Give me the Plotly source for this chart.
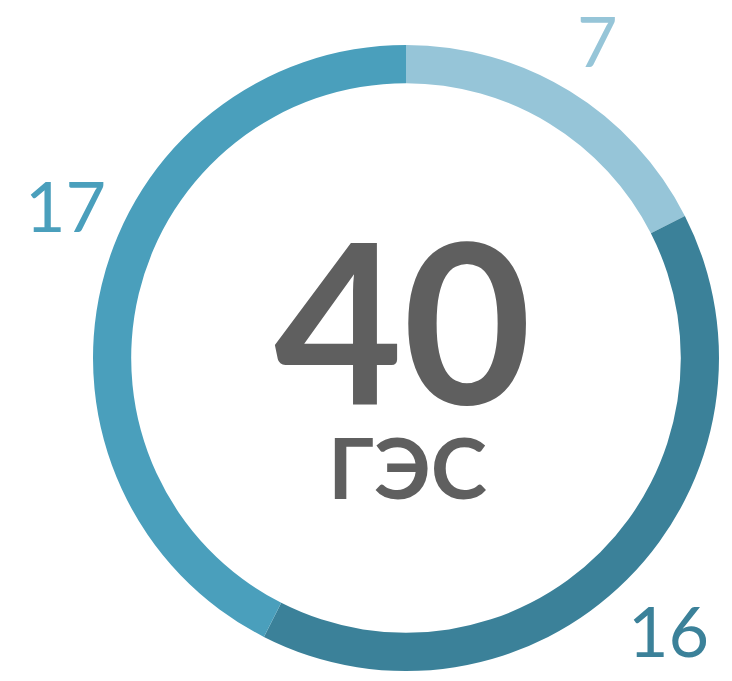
import plotly.graph_objects as go

labels = ["A", "B", "C"]
values = [7, 16, 17]
colors = ["#96c5d8", "#3b8199", "#4a9fbc"]
total_text = "40"
unit_text = "ГЭС"

W, H = 732, 681
OFF = 8  # default page margin of the html body
cx, cy, R = 406 - OFF, 358 - OFF, 313

fig = go.Figure()
fig.add_trace(go.Pie(
    labels=labels, values=values, sort=False, direction="clockwise", rotation=0,
    hole=0.878, textinfo="none", hoverinfo="skip",
    marker=dict(colors=colors, line=dict(width=0)),
    domain=dict(x=[(cx - R) / W, (cx + R) / W], y=[(H - cy - R) / H, (H - cy + R) / H]),
    showlegend=False,
))

def px(x, y):
    return (x - OFF) / W, 1 - (y - OFF) / H

label_pos = [(597, 40), (668, 630), (65, 205)]
anns = []
for v, c, (x, y) in zip(values, colors, label_pos):
    ax, ay = px(x, y)
    anns.append(dict(x=ax, y=ay, xref="paper", yref="paper", text=str(v), showarrow=False,
                     xanchor="center", yanchor="middle",
                     font=dict(family="Lato", size=70, color=c)))
ax, ay = px(403, 318)
anns.append(dict(x=ax, y=ay, xref="paper", yref="paper", text=f"<b>{total_text}</b>", showarrow=False,
                 xanchor="center", yanchor="middle",
                 font=dict(family="Lato", size=222, color="#5f5f5f")))
ax, ay = px(407, 466)
anns.append(dict(x=ax, y=ay, xref="paper", yref="paper", text=f"<b>{unit_text}</b>", showarrow=False,
                 xanchor="center", yanchor="middle",
                 font=dict(family="Lato", size=85, color="#5f5f5f")))

fig.update_layout(width=W, height=H, margin=dict(l=0, r=0, t=0, b=0),
                  paper_bgcolor="white", plot_bgcolor="white", annotations=anns)
fig.write_html("out.html")
